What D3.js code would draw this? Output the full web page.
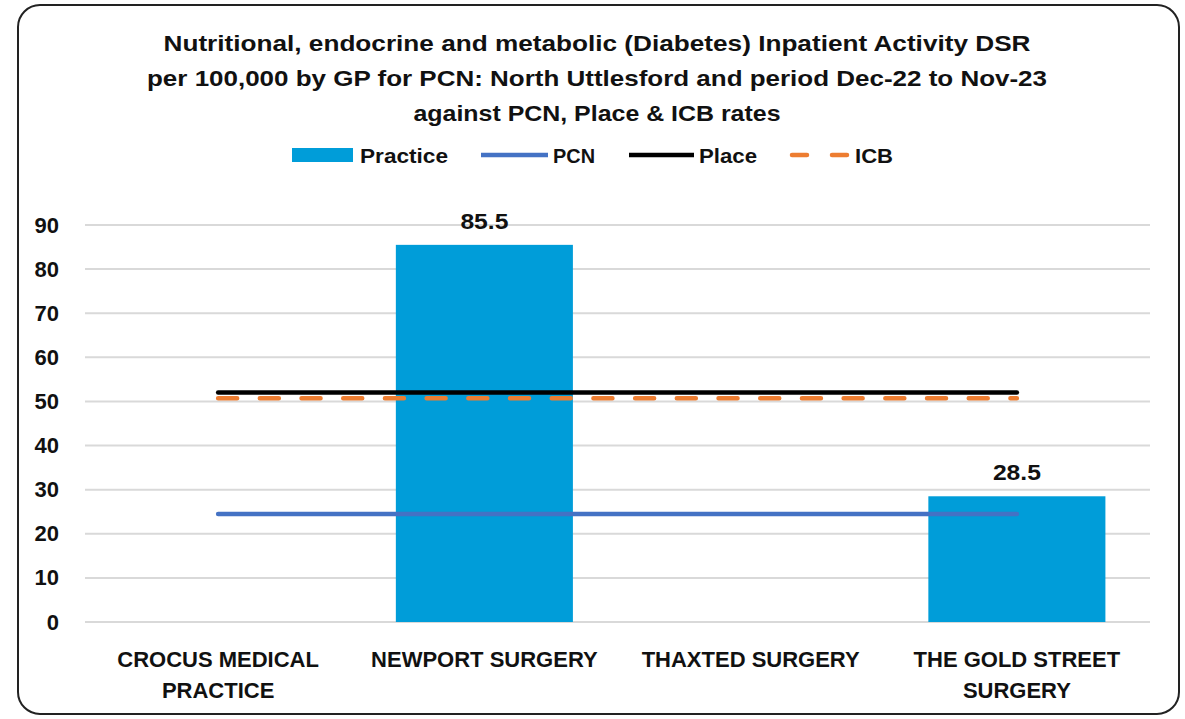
<!DOCTYPE html>
<html>
<head>
<meta charset="utf-8">
<script src="https://cdn.jsdelivr.net/npm/d3@7"></script>
<style>
  body { margin: 0; background: #fff; }
  svg { display: block; font-family: "Liberation Sans", Arial, sans-serif; }
</style>
</head>
<body>
<div id="chart"></div>
<script>
// Chart data
//
var categories = ["CROCUS MEDICAL PRACTICE", "NEWPORT SURGERY", "THAXTED SURGERY", "THE GOLD STREET SURGERY"];
var category_lines = [["CROCUS MEDICAL", "PRACTICE"], ["NEWPORT SURGERY"], ["THAXTED SURGERY"], ["THE GOLD STREET", "SURGERY"]];
var practice_values = [null, 85.5, null, 28.5];
var pcn_values = [24.5, 24.5, 24.5, 24.5];
var place_values = [52.0, 52.0, 52.0, 52.0];
var icb_values = [50.7, 50.7, 50.7, 50.7];
var y_ticks = [0, 10, 20, 30, 40, 50, 60, 70, 80, 90];
var title_lines = [
  "Nutritional, endocrine and metabolic (Diabetes) Inpatient Activity DSR",
  "per 100,000 by GP for PCN: North Uttlesford and period Dec-22 to Nov-23",
  "against PCN, Place & ICB rates"
];

var W = 1185, H = 719;
var plot = {left: 85, right: 1150, top: 225, bottom: 622};

var svg = d3.select("#chart").append("svg")
  .attr("width", W).attr("height", H);

// outer frame
svg.append("rect")
  .attr("x", 18).attr("y", 5)
  .attr("width", 1161).attr("height", 709)
  .attr("rx", 22).attr("ry", 22)
  .attr("fill", "#fff").attr("stroke", "#222").attr("stroke-width", 2);

// title
var title_widths = [867, 900, 367];
svg.selectAll("text.title")
  .data(title_lines).enter()
  .append("text")
  .attr("class", "title")
  .attr("x", 597)
  .attr("y", function(d, i) { return 51 + i * 35; })
  .attr("text-anchor", "middle")
  .attr("font-size", 22).attr("font-weight", "bold").attr("fill", "#111")
  .attr("textLength", function(d, i) { return title_widths[i]; })
  .attr("lengthAdjust", "spacingAndGlyphs")
  .text(function(d) { return d; });

// scales
var x_scale = d3.scaleBand()
  .domain(categories)
  .range([plot.left, plot.right])
  .paddingInner(0.335).paddingOuter(0.1675);

var x_center = function(c) { return x_scale(c) + x_scale.bandwidth() / 2; };

var y_scale = d3.scaleLinear()
  .domain([0, 90])
  .range([plot.bottom, plot.top]);

// gridlines
svg.append("g")
  .selectAll("line")
  .data(y_ticks).enter()
  .append("line")
  .attr("x1", plot.left).attr("x2", plot.right)
  .attr("y1", function(d) { return y_scale(d); })
  .attr("y2", function(d) { return y_scale(d); })
  .attr("stroke", "#d9d9d9").attr("stroke-width", 2);

// y axis labels
var y_axis = svg.append("g")
  .attr("transform", "translate(" + (plot.left - 26) + ",0)")
  .call(d3.axisLeft(y_scale).tickValues(y_ticks).tickSize(0).tickPadding(0));
y_axis.select(".domain").remove();
y_axis.selectAll("text")
  .attr("font-size", 22).attr("font-weight", "bold").attr("fill", "#111")
  .attr("font-family", "Liberation Sans, Arial, sans-serif");

// bars
var bar_data = categories.map(function(c, i) { return {cat: c, value: practice_values[i]}; })
  .filter(function(d) { return d.value !== null; });

svg.append("g")
  .selectAll("rect")
  .data(bar_data).enter()
  .append("rect")
  .attr("x", function(d) { return x_scale(d.cat); })
  .attr("y", function(d) { return y_scale(d.value); })
  .attr("width", x_scale.bandwidth())
  .attr("height", function(d) { return y_scale(0) - y_scale(d.value); })
  .attr("fill", "#009dd9");

svg.append("g")
  .selectAll("text")
  .data(bar_data).enter()
  .append("text")
  .attr("x", function(d) { return x_center(d.cat); })
  .attr("y", function(d) { return y_scale(d.value) - 16; })
  .attr("text-anchor", "middle")
  .attr("font-size", 22).attr("font-weight", "bold").attr("fill", "#111")
  .attr("textLength", 48).attr("lengthAdjust", "spacingAndGlyphs")
  .text(function(d) { return d.value.toFixed(1); });

// reference lines
var line_gen = function(values) {
  return d3.line()
    .x(function(d, i) { return x_center(categories[i]); })
    .y(function(d) { return y_scale(d); })(values);
};

svg.append("path").attr("d", line_gen(pcn_values))
  .attr("fill", "none").attr("stroke", "#4472c4").attr("stroke-width", 4.5)
  .attr("stroke-linecap", "round");
svg.append("path").attr("d", line_gen(place_values))
  .attr("fill", "none").attr("stroke", "#000").attr("stroke-width", 4.5)
  .attr("stroke-linecap", "round");
svg.append("path").attr("d", line_gen(icb_values))
  .attr("fill", "none").attr("stroke", "#ed7d31").attr("stroke-width", 4.5)
  .attr("stroke-linecap", "round").attr("stroke-dasharray", "19 22.7");

// x labels
var x_labels = svg.append("g")
  .selectAll("text")
  .data(categories).enter()
  .append("text")
  .attr("x", function(d) { return x_center(d); })
  .attr("y", 667)
  .attr("text-anchor", "middle")
  .attr("font-size", 22).attr("font-weight", "bold").attr("fill", "#111");

x_labels.each(function(d, i) {
  var t = d3.select(this);
  category_lines[i].forEach(function(l, j) {
    t.append("tspan")
      .attr("x", x_center(d))
      .attr("dy", j === 0 ? 0 : 31)
      .text(l);
  });
});

// legend
var legend = svg.append("g");
var ly = 155;
legend.append("rect").attr("x", 292).attr("y", ly - 7).attr("width", 61).attr("height", 14).attr("fill", "#009dd9");
legend.append("line").attr("x1", 481).attr("x2", 548).attr("y1", ly).attr("y2", ly)
  .attr("stroke", "#4472c4").attr("stroke-width", 4.5);
legend.append("line").attr("x1", 629).attr("x2", 694).attr("y1", ly).attr("y2", ly)
  .attr("stroke", "#000").attr("stroke-width", 4.5);
legend.append("line").attr("x1", 792).attr("x2", 850).attr("y1", ly).attr("y2", ly)
  .attr("stroke", "#ed7d31").attr("stroke-width", 4.5).attr("stroke-linecap", "round")
  .attr("stroke-dasharray", "15 25");

var legend_items = [
  {label: "Practice", x: 360, w: 88},
  {label: "PCN", x: 553, w: 42},
  {label: "Place", x: 699, w: 58},
  {label: "ICB", x: 855, w: 38}
];
legend.selectAll("text")
  .data(legend_items).enter()
  .append("text")
  .attr("x", function(d) { return d.x; })
  .attr("y", ly + 8)
  .attr("font-size", 21).attr("font-weight", "bold").attr("fill", "#111")
  .attr("textLength", function(d) { return d.w; })
  .attr("lengthAdjust", "spacingAndGlyphs")
  .text(function(d) { return d.label; });
</script>
</body>
</html>
